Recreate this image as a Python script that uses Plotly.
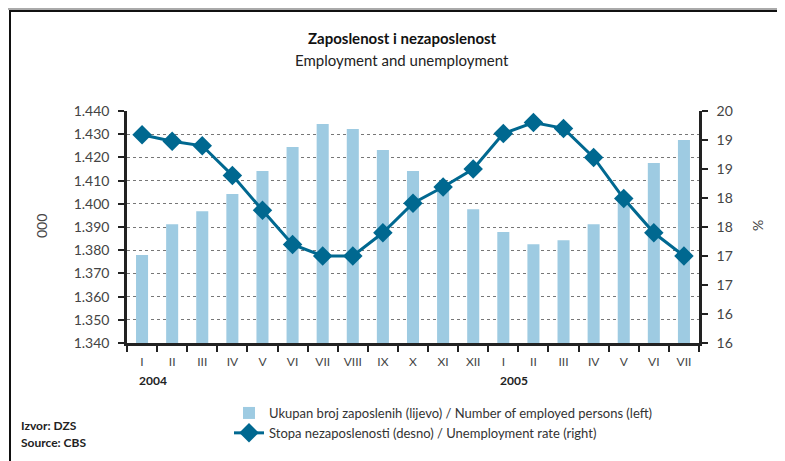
import plotly.graph_objects as go

months = ["I", "II", "III", "IV", "V", "VI", "VII", "VIII", "IX", "X", "XI", "XII",
          "I", "II", "III", "IV", "V", "VI", "VII"]
employed = [1377.9, 1391.2, 1396.8, 1404.2, 1414.1, 1424.5, 1434.4, 1432.2, 1423.2,
            1414.1, 1406.0, 1397.6, 1387.8, 1382.6, 1384.3, 1391.2, 1401.0, 1417.6, 1427.5]
unemployment = [19.59, 19.48, 19.40, 18.89, 18.29, 17.70, 17.50, 17.50, 17.90,
                18.41, 18.69, 19.00, 19.61, 19.80, 19.70, 19.20, 18.49, 17.90, 17.50]
years = ["2004", "2005"]
year_start_idx = [0, 12]

left_ticks = [1340 + 10 * i for i in range(11)]
right_ticks = [16 + 0.5 * i for i in range(9)]
right_ticktext = [str(int(v)) for v in right_ticks]

FONT = "Lato"
x = list(range(len(months)))

# page offset (browser body margin)
OFF = 8
SW, SH = 785, 461
W, H = SW - OFF, SH - OFF
# plot area in screen pixels
PX0, PX1, PY0, PY1 = 127, 699, 111, 343
L = PX0 - OFF
R = W - (PX1 - OFF)
T = PY0 - OFF
B = H - (PY1 - OFF)
pw = PX1 - PX0
ph = PY1 - PY0


def px_x(p):
    return (p - PX0) / pw


def px_y(p):
    return (PY1 - p) / ph


fig = go.Figure()
fig.add_trace(go.Bar(
    x=x, y=employed, name="Ukupan broj zaposlenih (lijevo) / Number of employed persons (left)",
    marker=dict(color="#9ecbe2", line=dict(width=0)), width=0.4, yaxis="y"))
fig.add_trace(go.Scatter(
    x=x, y=unemployment, name="Stopa nezaposlenosti (desno) / Unemployment rate (right)",
    mode="lines+markers", line=dict(color="#006890", width=3),
    marker=dict(symbol="diamond", size=15, color="#006890"), yaxis="y2"))

fig.update_layout(
    width=W, height=H,
    margin=dict(l=L, r=R, t=T, b=B),
    paper_bgcolor="white", plot_bgcolor="white",
    separators=",.",
    font=dict(family=FONT, color="#333333"),
    showlegend=True,
    legend=dict(x=px_x(229), y=px_y(398), xanchor="left", yanchor="top",
                font=dict(size=13, color="#333333"), tracegroupgap=2,
                bgcolor="rgba(0,0,0,0)"),
    bargap=0.6,
    xaxis=dict(range=[-0.5, len(months) - 0.5], tickmode="array", tickvals=x, ticktext=months,
               ticks="", tickfont=dict(size=12, color="#444444"), showgrid=False,
               ticklabelstandoff=6,
               showline=True, linecolor="#222222", linewidth=2.5, zeroline=False,
               minor=dict(tickmode="linear", tick0=-0.5, dtick=1, ticks="outside", ticklen=6,
                          tickcolor="#222222", tickwidth=1.5, showgrid=False)),
    yaxis=dict(range=[1340, 1440], tickmode="array", tickvals=left_ticks, tickformat=",.0f",
               ticks="outside", ticklen=6, tickcolor="#222222", tickwidth=1.5,
               ticklabelstandoff=6,
               tickfont=dict(size=14, color="#444444"),
               showline=True, linecolor="#222222", linewidth=2.5, zeroline=False,
               showgrid=True, gridcolor="#777777", griddash="dot", gridwidth=1.2),
    yaxis2=dict(range=[16, 20], overlaying="y", side="right", tickmode="array",
                tickvals=right_ticks, ticktext=right_ticktext,
                ticks="outside", ticklen=6, tickcolor="#222222", tickwidth=1.5,
                ticklabelstandoff=6,
                tickfont=dict(size=14, color="#444444"),
                showline=True, linecolor="#222222", linewidth=2.5, zeroline=False,
                showgrid=False),
)

ann = []


def add_text(text, sx, sy, size, color, xanchor="center", angle=0, xref_data=None, xshift=0):
    d = dict(text=text, y=px_y(sy), yref="paper", yanchor="middle", showarrow=False,
             textangle=angle, font=dict(size=size, color=color), xanchor=xanchor)
    if xref_data is None:
        d.update(x=px_x(sx), xref="paper")
    else:
        d.update(x=xref_data, xref="x", xshift=xshift)
    ann.append(d)


add_text("<b>Zaposlenost i nezaposlenost</b>", 402, 38, 15, "#111111")
add_text("Employment and unemployment", 402, 60, 15, "#222222")
add_text("000", 41, 226, 14, "#444444", angle=-90)
add_text("%", 757, 226, 14, "#444444", angle=-90)
for yr, idx in zip(years, year_start_idx):
    add_text("<b>" + yr + "</b>", 0, 380, 12, "#222222", xref_data=idx, xshift=11)
add_text("<b>Izvor: DZS</b>", 19, 425, 12, "#222222", xanchor="left")
add_text("<b>Source: CBS</b>", 19, 443, 12, "#222222", xanchor="left")
fig.update_layout(annotations=ann)

fig.add_shape(type="rect", xref="paper", yref="paper",
              x0=px_x(10), x1=px_x(781), y0=px_y(480), y1=px_y(11),
              line=dict(color="#111111", width=2), layer="below")
fig.add_shape(type="line", xref="paper", yref="paper",
              x0=px_x(OFF), x1=px_x(SW), y0=px_y(OFF + 1), y1=px_y(OFF + 1),
              line=dict(color="#aaaaaa", width=2), layer="below")

fig.write_html("out.html")
